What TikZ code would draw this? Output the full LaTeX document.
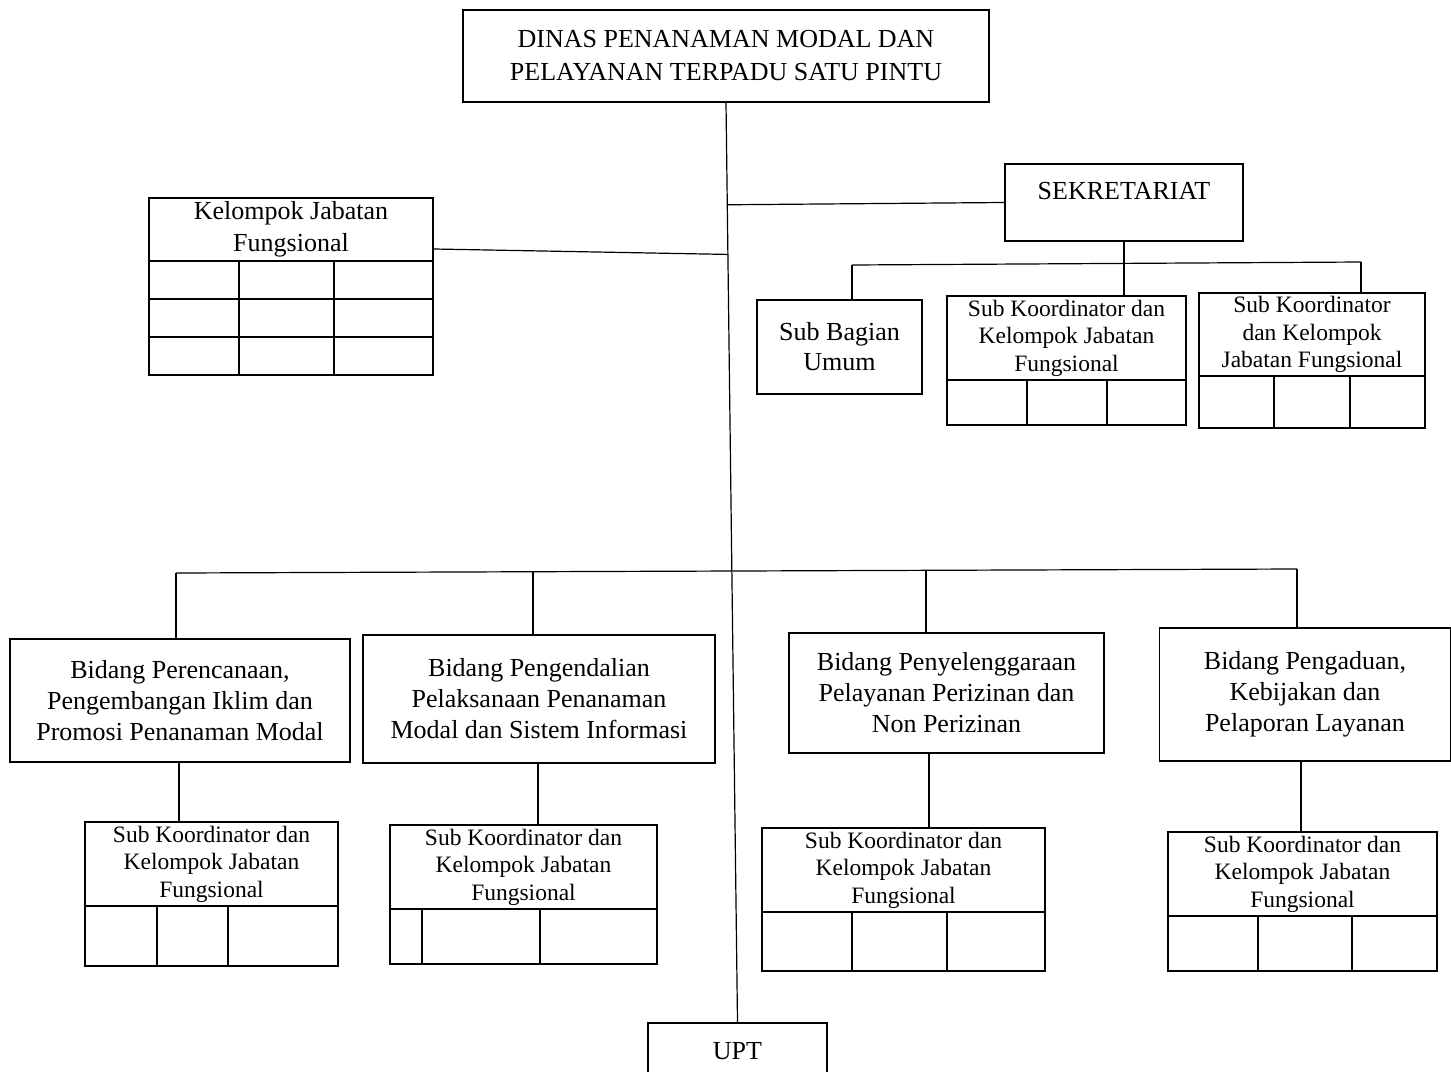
\documentclass[tikz,border=0pt]{standalone}
\usepackage{fontspec}
\setmainfont{Liberation Serif}
\usetikzlibrary{calc}
\begin{document}
\begin{tikzpicture}[x=1pt,y=-1pt,
  bigtxt/.style={font=\fontsize{26}{31}\selectfont},
  smalltxt/.style={font=\fontsize{23.5}{27.5}\selectfont},
  plainbox/.style={draw, line width=1.4pt, align=center, inner sep=0pt, bigtxt},
  headbox/.style={draw, line width=2.2pt, align=center, inner sep=0pt, smalltxt},
  tbl/.style={line width=2.2pt},
  conn/.style={line width=1.2pt},
]
\useasboundingbox (0,0) rectangle (1451,1071);
\clip (0,0) rectangle (1451,1071);

% main boxes
\node[plainbox, minimum width=526pt, minimum height=92pt, font=\fontsize{26}{33}\selectfont] (top) at (726,56)
  {DINAS PENANAMAN MODAL DAN\\PELAYANAN TERPADU SATU PINTU};
\node[plainbox, minimum width=179pt, minimum height=57pt] (upt) at (737.5,1051.5) {UPT};
\node[plainbox, minimum width=238pt, minimum height=77pt, text height=18pt, text depth=25pt] (sek) at (1124,202.5) {SEKRETARIAT};

% kelompok jabatan fungsional (left)
\node[headbox, bigtxt, minimum width=284pt, minimum height=63pt, font=\fontsize{26}{32}\selectfont] (kjf) at (291,229.5)
  {Kelompok Jabatan\\Fungsional};
\draw[tbl] (149,261) rectangle (433,375)
  (149,299) -- (433,299) (149,337) -- (433,337)
  (239,261) -- (239,375) (334,261) -- (334,375);

% sekretariat children
\node[plainbox, minimum width=165pt, minimum height=94pt, font=\fontsize{26}{30}\selectfont] (sbu) at (839.5,347) {Sub Bagian\\Umum};
\node[headbox, minimum width=239pt, minimum height=84pt] (sk2) at (1066.5,338)
  {Sub Koordinator dan\\Kelompok Jabatan\\Fungsional};
\draw[tbl] (947,380) rectangle (1186,425) (1027,380) -- (1027,425) (1107,380) -- (1107,425);
\node[headbox, minimum width=226pt, minimum height=83pt] (sk3) at (1312,334.5)
  {Sub Koordinator\\dan Kelompok\\Jabatan Fungsional};
\draw[tbl] (1199,376) rectangle (1425,428) (1274,376) -- (1274,428) (1350,376) -- (1350,428);

% bidang
\node[plainbox, minimum width=340pt, minimum height=123pt] (bid1) at (180,700.5)
  {Bidang Perencanaan,\\Pengembangan Iklim dan\\Promosi Penanaman Modal};
\node[plainbox, minimum width=352pt, minimum height=128pt] (bid2) at (539,699)
  {Bidang Pengendalian\\Pelaksanaan Penanaman\\Modal dan Sistem Informasi};
\node[plainbox, minimum width=315pt, minimum height=120pt] (bid3) at (946.5,693)
  {Bidang Penyelenggaraan\\Pelayanan Perizinan dan\\Non Perizinan};
\node[plainbox, minimum width=291pt, minimum height=133pt] (bid4) at (1305,694.5)
  {Bidang Pengaduan,\\Kebijakan dan\\Pelaporan Layanan};

% sub koordinator under bidang
\node[headbox, minimum width=253pt, minimum height=84pt] (sb1) at (211.5,864)
  {Sub Koordinator dan\\Kelompok Jabatan\\Fungsional};
\draw[tbl] (85,906) rectangle (338,966) (157,906) -- (157,966) (228,906) -- (228,966);
\node[headbox, minimum width=267pt, minimum height=84pt] (sb2) at (523.5,867)
  {Sub Koordinator dan\\Kelompok Jabatan\\Fungsional};
\draw[tbl] (390,909) rectangle (657,964) (422,909) -- (422,964) (540,909) -- (540,964);
\node[headbox, minimum width=283pt, minimum height=84pt] (sb3) at (903.5,870)
  {Sub Koordinator dan\\Kelompok Jabatan\\Fungsional};
\draw[tbl] (762,912) rectangle (1045,971) (852,912) -- (852,971) (947,912) -- (947,971);
\node[headbox, minimum width=269pt, minimum height=84pt] (sb4) at (1302.5,874)
  {Sub Koordinator dan\\Kelompok Jabatan\\Fungsional};
\draw[tbl] (1168,916) rectangle (1437,971) (1258,916) -- (1258,971) (1352,916) -- (1352,971);

% connectors
\draw[conn] (top.south) -- (upt.north);
\coordinate (jk) at ($(top.south)!0.165!(upt.north)$);
\coordinate (js) at ($(top.south)!0.111!(upt.north)$);
\draw[conn] ([yshift=-19.5pt]kjf.east) -- (jk);
\draw[conn] (js) -- (sek.west);

\coordinate (sbL) at (852,265);
\coordinate (sbR) at (1361,262);
\draw[conn] (sbL) -- (sbR);
\draw[conn] (sbL) -- (sbL |- sbu.north);
\draw[conn] (sek.south) -- (sek.south |- sk2.north);
\draw[conn] (sbR) -- (sbR |- sk3.north);

\coordinate (bbL) at (176,573);
\coordinate (bbR) at (1297,569);
\coordinate (bb2) at (533,571.7);
\coordinate (bb3) at (926,570.3);
\draw[conn] (bbL) -- (bbR);
\draw[conn] (bbL) -- (bbL |- bid1.north);
\draw[conn] (bb2) -- (bb2 |- bid2.north);
\draw[conn] (bb3) -- (bb3 |- bid3.north);
\draw[conn] (bbR) -- (bbR |- bid4.north);

\draw[conn] ([xshift=-1pt]bid1.south) -- ([xshift=-1pt]bid1.south |- sb1.north);
\draw[conn] ([xshift=-1pt]bid2.south) -- ([xshift=-1pt]bid2.south |- sb2.north);
\draw[conn] ([xshift=-17.5pt]bid3.south) -- ([xshift=-17.5pt]bid3.south |- sb3.north);
\draw[conn] ([xshift=-4pt]bid4.south) -- ([xshift=-4pt]bid4.south |- sb4.north);
\end{tikzpicture}
\end{document}
